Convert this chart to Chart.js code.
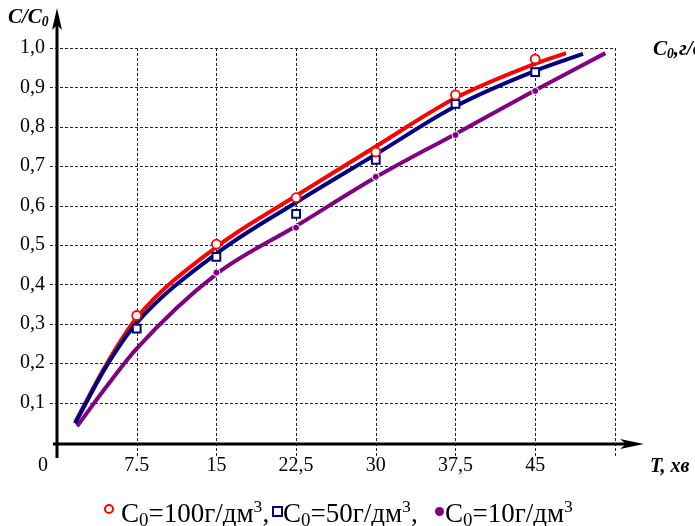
<!DOCTYPE html>
<html>
<head>
<meta charset="utf-8">
<script src="https://cdn.jsdelivr.net/npm/chart.js@4/dist/chart.umd.min.js"></script>
<style>
    html, body { margin: 0; padding: 0; background: #fff; overflow: hidden; }
    #wrap { position: relative; width: 695px; height: 526px; font-family: 'Liberation Serif', 'Times New Roman', serif; }
    canvas { position: absolute; left: 0; top: 0; }
    .title { position: absolute; font-weight: bold; font-style: italic; white-space: nowrap; line-height: 1; }
    .title sub { font-size: 65%; vertical-align: baseline; position: relative; top: 0.25em; }
    .title sup { font-size: 65%; vertical-align: baseline; position: relative; top: -0.5em; }
    .leg { position: absolute; top: 500px; font-size: 27px; line-height: 27px; white-space: nowrap; color: #000; }
    .leg sub { font-size: 70%; vertical-align: baseline; position: relative; top: 0.22em; }
    .leg sup { font-size: 65%; vertical-align: baseline; position: relative; top: -0.55em; }
    .sym { position: absolute; box-sizing: border-box; }
    .sym-circle { left: 104px; top: 504px; width: 10px; height: 10px; border: 2px solid #ff0000; border-radius: 50%; }
    .sym-square { left: 272px; top: 506px; width: 11px; height: 11px; border: 2px solid #000080; }
    .sym-dot { left: 435px; top: 507px; width: 9px; height: 9px; border-radius: 50%; background: #800080; }
</style>
</head>
<body>
<div id="wrap">
    <canvas id="chart" width="695" height="526"></canvas>
    <div class="title" style="left:8px; top:6px; font-size:21px;">C/C<sub>0</sub></div>
    <div class="title" style="left:650px; top:455px; font-size:20px;">T, хв</div>
    <div class="title" style="left:653px; top:38px; font-size:21px;">C<sub>0</sub>,г/дм<sup>3</sup></div>
    <span class="sym sym-circle"></span>
    <span class="leg" style="left:121px;">C<sub>0</sub>=100г/дм<sup>3</sup>,</span>
    <span class="sym sym-square"></span>
    <span class="leg" style="left:283px;">C<sub>0</sub>=50г/дм<sup>3</sup>,</span>
    <span class="sym sym-dot"></span>
    <span class="leg" style="left:445px;">C<sub>0</sub>=10г/дм<sup>3</sup></span>
</div>
<script>
// Tick labels
const yTickValues = [0.1, 0.2, 0.3, 0.4, 0.5, 0.6, 0.7, 0.8, 0.9, 1.0];
const yTickLabels = ['0,1', '0,2', '0,3', '0,4', '0,5', '0,6', '0,7', '0,8', '0,9', '1,0'];
const xTickValues = [7.5, 15, 22.5, 30, 37.5, 45, 52.5];
const xTickLabels = ['7.5', '15', '22,5', '30', '37,5', '45', ''];

// Measured points (markers)
const markerT = [7.5, 15, 22.5, 30, 37.5, 45];
const c100 = [0.321, 0.502, 0.62, 0.736, 0.881, 0.972];
const c50 = [0.288, 0.470, 0.579, 0.716, 0.858, 0.939];
const c10 = [0.288, 0.430, 0.544, 0.673, 0.779, 0.891];

// Fitted curves
const lineT100 = [1.7, 4.6, 7.5, 15, 22.5, 30, 37.5, 45, 47.9];
const line100 = [0.05, 0.195, 0.315, 0.495, 0.625, 0.75, 0.873, 0.96, 0.987];
const lineT50 = [1.7, 4.6, 7.5, 15, 22.5, 30, 37.5, 45, 49.5];
const line50 = [0.047, 0.19, 0.302, 0.478, 0.608, 0.73, 0.852, 0.942, 0.985];
const lineT10 = [1.9, 4.5, 7.5, 15, 22.5, 30, 37.5, 45, 51.6];
const line10 = [0.04, 0.135, 0.237, 0.426, 0.548, 0.672, 0.782, 0.893, 0.987];

function pairs(xs, ys) {
    return xs.map((x, i) => ({x: x, y: ys[i]}));
}

// Grid, axes with arrows, tick labels
const axesPlugin = {
    id: 'axesPlugin',
    beforeDatasetsDraw(chart) {
        const ctx = chart.ctx;
        const xs = chart.scales.x;
        const ys = chart.scales.y;
        const x0 = xs.getPixelForValue(0);
        const y0 = ys.getPixelForValue(0) + 2;
        const xEnd = xs.getPixelForValue(52.5);
        const yTop = ys.getPixelForValue(1.0);

        ctx.save();
        // dashed grid
        ctx.strokeStyle = '#222';
        ctx.lineWidth = 1;
        ctx.setLineDash([3, 2]);
        yTickValues.forEach(v => {
            const y = Math.round(ys.getPixelForValue(v)) + 0.5;
            ctx.beginPath();
            ctx.moveTo(x0 - 7, y);
            ctx.lineTo(xEnd, y);
            ctx.stroke();
        });
        xTickValues.forEach(v => {
            const x = Math.round(xs.getPixelForValue(v)) + 0.5;
            ctx.beginPath();
            ctx.moveTo(x, yTop);
            ctx.lineTo(x, y0 + 13);
            ctx.stroke();
        });
        ctx.setLineDash([]);

        // axes
        ctx.strokeStyle = '#000';
        ctx.fillStyle = '#000';
        ctx.lineWidth = 3;
        const yTip = chart.chartArea.top;
        const xTip = chart.chartArea.right;
        ctx.beginPath();
        ctx.moveTo(x0, y0 + 14);
        ctx.lineTo(x0, yTip + 12);
        ctx.stroke();
        ctx.beginPath();
        ctx.moveTo(x0 - 4, y0);
        ctx.lineTo(xTip - 12, y0);
        ctx.stroke();
        // arrow heads
        ctx.beginPath();
        ctx.moveTo(x0, yTip);
        ctx.lineTo(x0 + 5, yTip + 22);
        ctx.lineTo(x0, yTip + 17);
        ctx.lineTo(x0 - 5, yTip + 22);
        ctx.closePath();
        ctx.fill();
        ctx.beginPath();
        ctx.moveTo(xTip, y0);
        ctx.lineTo(xTip - 24, y0 - 5);
        ctx.lineTo(xTip - 18, y0);
        ctx.lineTo(xTip - 24, y0 + 5);
        ctx.closePath();
        ctx.fill();

        // tick labels
        ctx.font = '20px "Liberation Serif", "Times New Roman", serif';
        ctx.textAlign = 'right';
        ctx.textBaseline = 'middle';
        yTickValues.forEach((v, i) => {
            ctx.fillText(yTickLabels[i], x0 - 12, ys.getPixelForValue(v));
        });
        ctx.textAlign = 'center';
        ctx.fillText('0', x0 - 14, y0 + 22);
        xTickValues.forEach((v, i) => {
            ctx.fillText(xTickLabels[i], xs.getPixelForValue(v), y0 + 22);
        });
        ctx.restore();
    }
};

const lineStyle = {
    pointRadius: 0,
    borderWidth: 4,
    fill: false,
    cubicInterpolationMode: 'monotone'
};

new Chart(document.getElementById('chart').getContext('2d'), {
    type: 'line',
    data: {
        datasets: [
            Object.assign({label: 'line10', data: pairs(lineT10, line10), borderColor: '#800080', order: 5}, lineStyle),
            Object.assign({label: 'line100', data: pairs(lineT100, line100), borderColor: '#ff0000', order: 4}, lineStyle),
            Object.assign({label: 'line50', data: pairs(lineT50, line50), borderColor: '#000080', order: 3}, lineStyle),
            {
                label: 'C0=10', data: pairs(markerT, c10), showLine: false, order: 2,
                pointStyle: 'circle', pointRadius: 3.5, pointBackgroundColor: '#800080',
                pointBorderColor: '#ffffff', pointBorderWidth: 1
            },
            {
                label: 'C0=50', data: pairs(markerT, c50), showLine: false, order: 1,
                pointStyle: 'rect', pointRadius: 5.5, pointBackgroundColor: '#ffffff',
                pointBorderColor: '#000080', pointBorderWidth: 2
            },
            {
                label: 'C0=100', data: pairs(markerT, c100), showLine: false, order: 0,
                pointStyle: 'circle', pointRadius: 4.5, pointBackgroundColor: '#ffffff',
                pointBorderColor: '#ff0000', pointBorderWidth: 1.8
            }
        ]
    },
    options: {
        responsive: false,
        animation: false,
        layout: { padding: { left: 57, right: 51, top: 8, bottom: 84 } },
        plugins: { legend: { display: false }, tooltip: { enabled: false } },
        scales: {
            x: { type: 'linear', min: 0, max: 55.24, display: false },
            y: { type: 'linear', min: 0, max: 1.1015, display: false }
        }
    },
    plugins: [axesPlugin]
});
</script>
</body>
</html>
